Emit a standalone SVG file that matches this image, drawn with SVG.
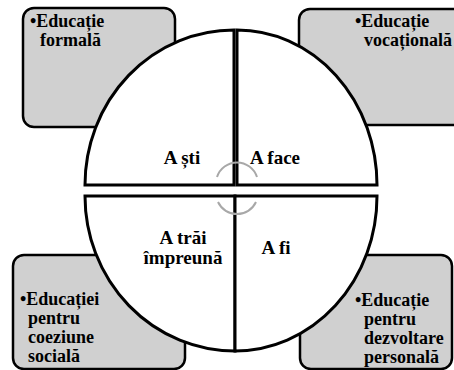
<svg xmlns="http://www.w3.org/2000/svg" width="454" height="370" viewBox="0 0 454 370">
<style>
.box{fill:#d0d0d0;stroke:#000;stroke-width:2.5}
.q{fill:#fff;stroke:#000;stroke-width:3;stroke-linejoin:miter}
.bt{font-family:'Liberation Serif','Times New Roman','DejaVu Serif',serif;font-weight:bold;font-size:18px;fill:#000}
.qt{font-family:'Liberation Serif','Times New Roman','DejaVu Serif',serif;font-weight:bold;font-size:19px;fill:#000;text-anchor:middle}
.arc{fill:none;stroke:#a8a8a8;stroke-width:2}
</style>
<rect width="454" height="370" fill="#fff"/>
<g id="box-formala">
<rect class="box" x="23" y="8" width="152" height="119" rx="11"/>
<text class="bt" x="30" y="27">•Educație</text>
<text class="bt" x="40" y="46">formală</text>
</g>
<g id="box-vocationala">
<rect class="box" x="299" y="9" width="170" height="116" rx="11"/>
<text class="bt" x="355" y="27">•Educație</text>
<text class="bt" x="364" y="46">vocațională</text>
</g>
<g id="box-coeziune">
<rect class="box" x="13" y="255" width="172" height="114" rx="11"/>
<text class="bt" x="20" y="305">•Educației</text>
<text class="bt" x="28" y="324">pentru</text>
<text class="bt" x="28" y="343">coeziune</text>
<text class="bt" x="28" y="362">socială</text>
</g>
<g id="box-dezvoltare">
<rect class="box" x="300" y="255" width="152" height="114" rx="11"/>
<text class="bt" x="355" y="306">•Educație</text>
<text class="bt" x="364" y="325">pentru</text>
<text class="bt" x="364" y="344">dezvoltare</text>
<text class="bt" x="364" y="363">personală</text>
</g>
<g id="q-sti">
<path class="q" d="M234,185 L85,185 A149,155 0 0 1 234,30 Z"/>
<text class="qt" x="182" y="164">A ști</text>
</g>
<g id="q-face">
<path class="q" d="M237,185 L237,30 A140,155 0 0 1 377,185 Z"/>
<text class="qt" x="275" y="164">A face</text>
</g>
<g id="q-trai">
<path class="q" d="M235,196 L235,351 A150,155 0 0 1 85,196 Z"/>
<text class="qt" x="183" y="244">A trăi</text>
<text class="qt" x="183" y="264">împreună</text>
</g>
<g id="q-fi">
<path class="q" d="M235,196 L377,196 A142,155 0 0 1 235,351 Z"/>
<text class="qt" x="276" y="254">A fi</text>
</g>
<g id="connectors">
<path class="arc" d="M217,177 A21,21 0 0 1 257,177"/>
<path class="arc" d="M218,202 A21,21 0 0 0 256,202"/>
</g>
</svg>
